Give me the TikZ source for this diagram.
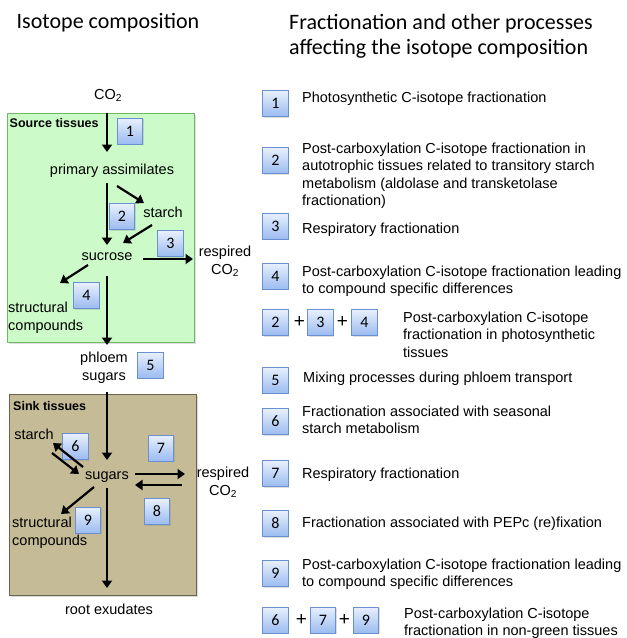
\documentclass[tikz,border=0pt]{standalone}
\usepackage{fontspec}
\setmainfont{Liberation Sans}
\newfontfamily\calibfont{Carlito}
\usetikzlibrary{arrows.meta,calc,shadows}
\definecolor{srcfill}{RGB}{204,250,200}
\definecolor{srcdraw}{RGB}{110,185,100}
\definecolor{sinkfill}{RGB}{197,187,150}
\definecolor{sinkdraw}{RGB}{105,100,80}
\definecolor{nbtop}{RGB}{232,240,253}
\definecolor{nbbot}{RGB}{155,187,240}
\definecolor{nbdraw}{RGB}{105,145,210}
\tikzset{
  lbl/.style={font=\fontsize{14.5}{18}\selectfont, inner sep=0pt},
  tlbl/.style={lbl, anchor=base},
  mlbl/.style={lbl, align=center, anchor=north},
  mllbl/.style={lbl, align=left, anchor=north west},
  rtxt/.style={font=\fontsize{14.5}{17.5}\selectfont, inner sep=0pt, align=left, anchor=north west},
  region/.style={font=\bfseries\fontsize{12.5}{15}\selectfont, inner sep=0pt, anchor=base west},
  head/.style={font=\calibfont\fontsize{22}{25}\selectfont, inner sep=0pt, align=left, anchor=base west},
  numbox/.style={draw=nbdraw, line width=0.9pt, top color=nbtop, bottom color=nbbot,
    minimum width=25.5pt, minimum height=26pt, inner sep=0pt,
    font=\calibfont\fontsize{16}{16}\selectfont,
    drop shadow={shadow xshift=1.2pt, shadow yshift=-1.2pt, opacity=0.25}},
  plus/.style={font=\fontsize{19}{19}\selectfont, inner sep=0pt},
  arr/.style={line width=2.2pt, -{Triangle[length=7.5pt,width=10pt]}},
}
\begin{document}
\begin{tikzpicture}[x=1pt,y=-1pt]
\useasboundingbox (0,0) rectangle (627,638);

% headers
\node[head] (h1) at (16.5,28.5) {Isotope composition};
\node[head] (h2a) at (289,29) {Fractionation and other processes};
\node[head] (h2b) at (289,54) {affecting the isotope composition};

% tissue regions
\node[draw=srcdraw, line width=1pt, fill=srcfill, minimum width=187pt, minimum height=229pt,
  anchor=north west, inner sep=0pt,
  drop shadow={shadow xshift=1.5pt, shadow yshift=-1.5pt, opacity=0.25}] (src) at (7,113) {};
\node[draw=sinkdraw, line width=1pt, fill=sinkfill, minimum width=187pt, minimum height=201pt,
  anchor=north west, inner sep=0pt,
  drop shadow={shadow xshift=1.5pt, shadow yshift=-1.5pt, opacity=0.3}] (sink) at (9,394) {};
\node[region] (srclbl) at (9.5,127.5) {Source tissues};
\node[region] (sinklbl) at (13,410.5) {Sink tissues};

% left labels
\node[tlbl] (co2) at (108,99.5) {CO\textsubscript{2}};
\node[tlbl] (prim) at (112,174) {primary assimilates};
\node[tlbl] (starcha) at (163,217) {starch};
\node[tlbl] (sucrose) at (107,260) {sucrose};
\node[mlbl] (respa) at (225,246) {respired\\CO\textsubscript{2}};
\node[mllbl] (structa) at (8,302) {structural\\compounds};
\node[mlbl] (phloem) at (104,352) {phloem\\sugars};
\node[tlbl] (starchb) at (34,439.5) {starch};
\node[tlbl] (sugars) at (107,479) {sugars};
\node[mlbl] (respb) at (223,467) {respired\\CO\textsubscript{2}};
\node[mllbl] (structb) at (12,517) {structural\\compounds};
\node[tlbl] (root) at (109,614) {root exudates};

% left number boxes
\node[numbox] (L1) at (130,131) {1};
\node[numbox] (L2) at (122,216.5) {2};
\node[numbox] (L3) at (170.5,243.5) {3};
\node[numbox] (L4) at (86.5,295.5) {4};
\node[numbox] (L5) at (150.5,365) {5};
\node[numbox] (L6) at (75.5,446.5) {6};
\node[numbox] (L7) at (161,448) {7};
\node[numbox] (L8) at (157,511.5) {8};
\node[numbox] (L9) at (88,520) {9};

% arrows, source tissues
\draw[arr] ($(co2.base)+(-1,13.5)$) -- ($(prim.base)+(-5,-22)$);
\draw[arr] ($(prim.base)+(-5,9)$) -- ($(sucrose.base)+(0,-15)$);
\draw[arr] ($(prim.base)+(5,12)$) -- ($(starcha.base)+(-19,-14)$);
\draw[arr] ($(starcha.base)+(-11,8)$) -- ($(sucrose.base)+(16,-17)$);
\draw[arr] ($(sucrose.base)+(36,-1)$) -- ($(respa.north)+(-32,13)$);
\draw[arr] ($(sucrose.base)+(-19,5)$) -- ($(structa.north west)+(52,-19)$);
\draw[arr] ($(sucrose.base)+(0,16)$) -- ($(phloem.north)+(3,-7)$);

% arrows, sink tissues
\draw[arr] ($(phloem.north)+(3,40)$) -- ($(sugars.base)+(0,-19)$);
\draw[arr] ($(sugars.base)+(-24,-12)$) -- ($(starchb.base)+(19,3.5)$);
\draw[arr] ($(starchb.base)+(18,13.5)$) -- ($(sugars.base)+(-28,-5)$);
\draw[arr] ($(sugars.base)+(28,-5)$) -- ($(respb.north)+(-38,7)$);
\draw[arr] ($(respb.north)+(-41,18)$) -- ($(sugars.base)+(28,6)$);
\draw[arr] ($(sugars.base)+(-13,8)$) -- ($(structb.north west)+(49,-3)$);
\draw[arr] ($(sugars.base)+(0,9)$) -- ($(root.base)+(-2,-26)$);

% right column boxes
\node[numbox] (R1) at (275.5,103.5) {1};
\node[numbox] (R2) at (275.5,160.5) {2};
\node[numbox] (R3) at (275.5,226) {3};
\node[numbox] (R4) at (275.5,276) {4};
\node[numbox] (Ca2) at (275.5,322.5) {2};
\node[plus] (pa1) at (299.5,322.5) {+};
\node[numbox] (Ca3) at (320.5,322.5) {3};
\node[plus] (pa2) at (342.5,322.5) {+};
\node[numbox] (Ca4) at (364.5,322.5) {4};
\node[numbox] (R5) at (275.5,380) {5};
\node[numbox] (R6) at (275.5,421.5) {6};
\node[numbox] (R7) at (275.5,473.5) {7};
\node[numbox] (R8) at (275.5,523.5) {8};
\node[numbox] (R9) at (275.5,573.5) {9};
\node[numbox] (Cb6) at (275.5,620) {6};
\node[plus] (pb1) at (301.5,620) {+};
\node[numbox] (Cb7) at (323,620) {7};
\node[plus] (pb2) at (344.5,620) {+};
\node[numbox] (Cb9) at (366,620) {9};

% right column texts
\node[rtxt] (T1) at (302,91.5) {Photosynthetic C-isotope fractionation};
\node[rtxt] (T2) at (302,142.5) {Post-carboxylation C-isotope fractionation in\\autotrophic tissues related to transitory starch\\metabolism (aldolase and transketolase\\fractionation)};
\node[rtxt] (T3) at (302,222.5) {Respiratory fractionation};
\node[rtxt] (T4) at (302,265.5) {Post-carboxylation C-isotope fractionation leading\\to compound specific differences};
\node[rtxt] (TC1) at (403,311.5) {Post-carboxylation C-isotope\\fractionation in photosynthetic\\tissues};
\node[rtxt] (T5) at (303,371.5) {Mixing processes during phloem transport};
\node[rtxt] (T6) at (302,405.5) {Fractionation associated with seasonal\\starch metabolism};
\node[rtxt] (T7) at (302,467.5) {Respiratory fractionation};
\node[rtxt] (T8) at (302,516.5) {Fractionation associated with PEPc (re)fixation};
\node[rtxt] (T9) at (302,558.5) {Post-carboxylation C-isotope fractionation leading\\to compound specific differences};
\node[rtxt] (TC2) at (404,607.5) {Post-carboxylation C-isotope\\fractionation in non-green tissues};
\end{tikzpicture}
\end{document}
